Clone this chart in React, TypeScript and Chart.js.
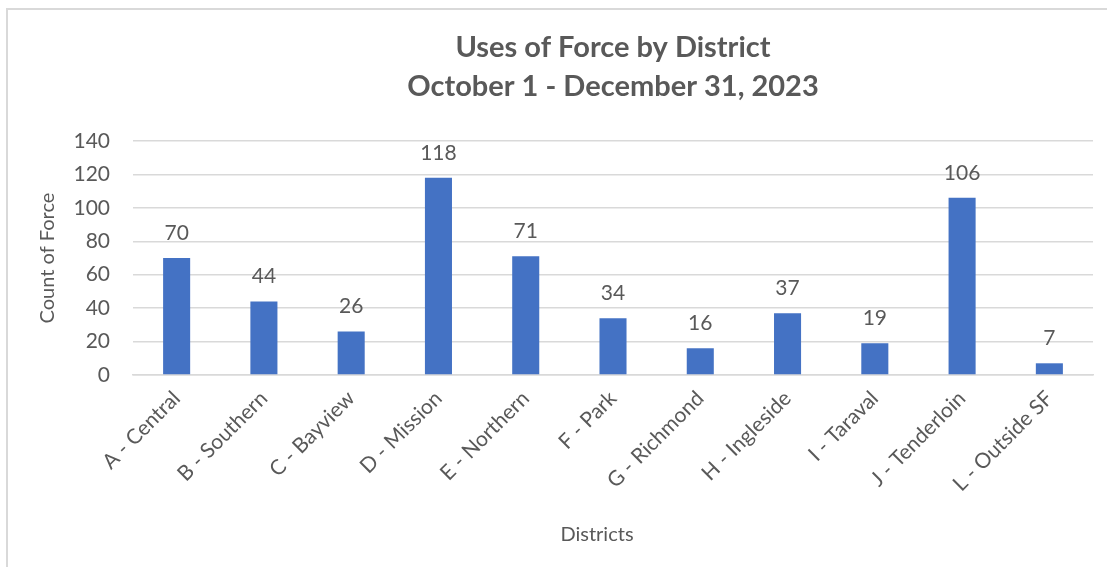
import React, { useEffect, useRef } from "react";
import { Chart, registerables } from "chart.js";

Chart.register(...registerables);

const districts = [
  "A - Central",
  "B - Southern",
  "C - Bayview",
  "D - Mission",
  "E - Northern",
  "F - Park",
  "G - Richmond",
  "H - Ingleside",
  "I - Taraval",
  "J - Tenderloin",
  "L - Outside SF",
];
const counts = [70, 44, 26, 118, 71, 34, 16, 37, 19, 106, 7];
const titleLines = ["Uses of Force by District", "October 1 - December 31, 2023"];
const yAxisTitle = "Count of Force";
const xAxisTitle = "Districts";

const FONT = "Lato, 'Open Sans', sans-serif";
const TEXT = "#595959";
const BAR = "#4472C4";
const GRID = "#d9d9d9";

const labelPlugin = {
  id: "barLabels",
  afterDatasetsDraw(chart: any) {
    const ctx = chart.ctx;
    const meta = chart.getDatasetMeta(0);
    ctx.save();
    ctx.font = `21px ${FONT}`;
    ctx.fillStyle = TEXT;
    ctx.textAlign = "center";
    ctx.textBaseline = "middle";
    meta.data.forEach((bar: any, i: number) => {
      ctx.fillText(String(chart.data.datasets[0].data[i]), bar.x, bar.y - 25);
    });
    ctx.restore();
  },
};

const titlePlugin = {
  id: "customTitle",
  afterDraw(chart: any) {
    const ctx = chart.ctx;
    const { left, right } = chart.chartArea;
    const cx = (left + right) / 2;
    ctx.save();
    ctx.font = `bold 29px ${FONT}`;
    ctx.fillStyle = TEXT;
    ctx.textAlign = "center";
    ctx.textBaseline = "middle";
    ctx.fillText(titleLines[0], cx, 48);
    ctx.fillText(titleLines[1], cx, 87);
    ctx.font = `20px ${FONT}`;
    ctx.fillText(xAxisTitle, cx - 16, 535);
    ctx.restore();
  },
};

export default function App() {
  const ref = useRef<HTMLCanvasElement>(null);
  useEffect(() => {
    if (!ref.current) return;
    const chart = new Chart(ref.current, {
      type: "bar",
      data: {
        labels: districts,
        datasets: [
          {
            data: counts,
            backgroundColor: BAR,
            barPercentage: 0.31,
            categoryPercentage: 1,
          },
        ],
      },
      options: {
        animation: false,
        responsive: false,
        layout: { padding: { top: 141, right: 14, left: 0, bottom: 0 } },
        plugins: { legend: { display: false }, tooltip: { enabled: false }, title: { display: false } },
        scales: {
          x: {
            grid: { display: false, drawTicks: false },
            border: { display: true, color: GRID, width: 1.5 },
            ticks: {
              color: TEXT,
              font: { family: FONT, size: 21 },
              minRotation: 45,
              maxRotation: 45,
              padding: 11,
              autoSkip: false,
            },
            title: { display: false },
            afterFit: (s: any) => {
              s.height = 192;
            },
          },
          y: {
            min: 0,
            max: 140,
            grid: { color: GRID, lineWidth: 1.5, drawTicks: false },
            border: { display: false },
            ticks: {
              stepSize: 20,
              color: TEXT,
              font: { family: FONT, size: 21 },
              padding: 23,
            },
            title: {
              display: true,
              text: yAxisTitle,
              color: TEXT,
              font: { family: FONT, size: 20 },
              padding: { top: 36, bottom: 0 },
            },
            afterFit: (s: any) => {
              s.width = 133;
            },
          },
        },
      },
      plugins: [labelPlugin, titlePlugin],
    });
    return () => chart.destroy();
  }, []);

  return (
    <div
      style={{
        position: "absolute",
        left: 0,
        top: 0,
        width: 1107,
        height: 567,
        overflow: "hidden",
        background: "#fff",
      }}
    >
      <div
        style={{
          position: "absolute",
          left: 6,
          top: 8,
          width: 1300,
          height: 800,
          border: `2px solid ${GRID}`,
          boxSizing: "border-box",
        }}
      />
      <canvas
        ref={ref}
        width={1107}
        height={567}
        style={{ position: "absolute", left: 0, top: 0, width: 1107, height: 567 }}
      />
    </div>
  );
}
